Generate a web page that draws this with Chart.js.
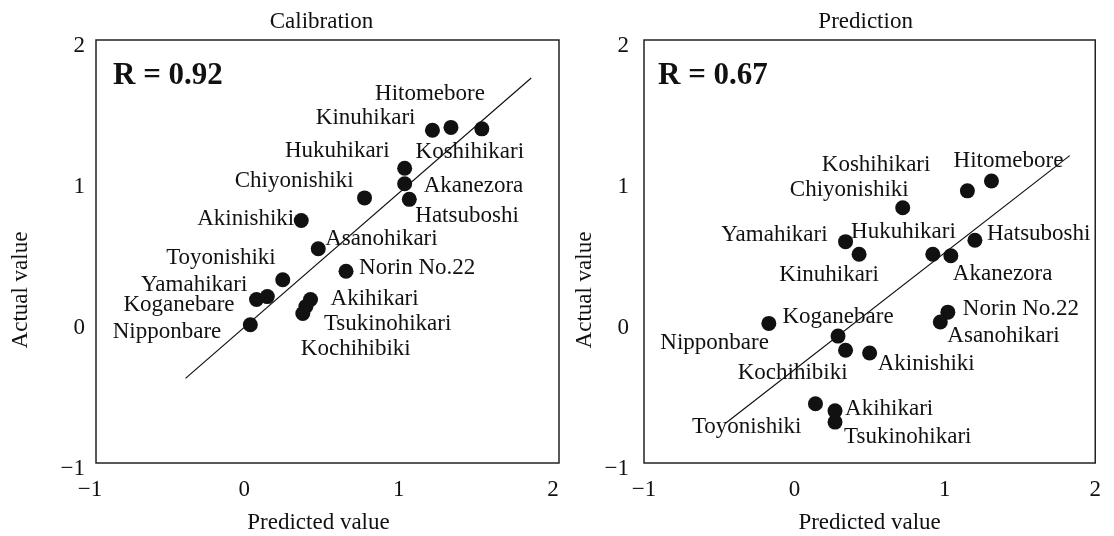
<!DOCTYPE html>
<html>
<head>
<meta charset="utf-8">
<script src="https://cdn.jsdelivr.net/npm/chart.js@4.4.1/dist/chart.umd.min.js"></script>
<style>
  html, body { margin: 0; padding: 0; background: #fff; }
  #wrap { position: relative; width: 1114px; height: 536px; overflow: hidden; }
  #wrap canvas { position: absolute; left: 0; top: 0; }
</style>
</head>
<body>
<div id="wrap">
  <canvas id="cal" width="1114" height="536"></canvas>
  <canvas id="pre" width="1114" height="536"></canvas>
</div>
<script>
// Cultivars (same order in both panels)
const cultivars = [
  'Nipponbare', 'Koganebare', 'Yamahikari', 'Toyonishiki', 'Akihikari',
  'Tsukinohikari', 'Kochihibiki', 'Akinishiki', 'Asanohikari', 'Norin No.22',
  'Chiyonishiki', 'Hukuhikari', 'Akanezora', 'Hatsuboshi', 'Kinuhikari',
  'Hitomebore', 'Koshihikari'
];

// Calibration set
const calPredicted = [0.00, 0.04, 0.11, 0.21, 0.39, 0.36, 0.34, 0.33, 0.44, 0.62, 0.74, 1.00, 1.00, 1.03, 1.18, 1.30, 1.50];
const calActual    = [-0.02, 0.16, 0.18, 0.30, 0.16, 0.11, 0.06, 0.72, 0.52, 0.36, 0.88, 1.09, 0.98, 0.87, 1.36, 1.38, 1.37];
const calFitX = [-0.42, 1.82];
const calFitY = [-0.40, 1.73];
const calR = 'R = 0.92';

// Prediction set
const prePredicted = [-0.17, 0.29, 0.34, 0.14, 0.27, 0.27, 0.34, 0.50, 0.97, 1.02, 0.72, 0.92, 1.04, 1.20, 0.43, 1.31, 1.15];
const preActual    = [-0.01, -0.10, 0.57, -0.58, -0.63, -0.71, -0.20, -0.22, 0.00, 0.07, 0.81, 0.48, 0.47, 0.58, 0.48, 1.00, 0.93];
const preFitX = [-0.46, 1.83];
const preFitY = [-0.72, 1.18];
const preR = 'R = 0.67';

// Axis ticks
const tickValues = [-1, 0, 1, 2];

// Label placement next to each marker: [textAlign, dx, dy] in pixels
const calLabelPlace = {
  'Hitomebore': ['center', -21, -33], 'Kinuhikari': ['right', -17, -12],
  'Koshihikari': ['center', -12, 23], 'Hukuhikari': ['right', -15, -17],
  'Akanezora': ['left', 19, 2], 'Hatsuboshi': ['left', 6, 17],
  'Chiyonishiki': ['right', -11, -17], 'Akinishiki': ['right', -7, -2],
  'Asanohikari': ['left', 7, -10], 'Toyonishiki': ['right', -7, -22],
  'Norin No.22': ['left', 13, -3], 'Yamahikari': ['right', -20, -12],
  'Koganebare': ['right', -22, 6], 'Nipponbare': ['right', -29, 7],
  'Akihikari': ['left', 20, 0], 'Tsukinohikari': ['left', 18, 17],
  'Kochihibiki': ['left', -2, 35]
};
const preLabelPlace = {
  'Hitomebore': ['center', 17, -20], 'Koshihikari': ['right', -37, -26],
  'Chiyonishiki': ['right', 6, -18], 'Yamahikari': ['right', -18, -7],
  'Hukuhikari': ['right', 23, -22], 'Kinuhikari': ['center', -30, 21],
  'Akanezora': ['left', 2, 18], 'Hatsuboshi': ['left', 12, -6],
  'Norin No.22': ['left', 15, -3], 'Asanohikari': ['left', 7, 14],
  'Koganebare': ['center', 0, -19], 'Nipponbare': ['right', 0, 20],
  'Kochihibiki': ['right', 2, 23], 'Akinishiki': ['left', 8, 11],
  'Toyonishiki': ['right', -14, 23], 'Akihikari': ['left', 10, -2],
  'Tsukinohikari': ['left', 9, 15]
};

const SERIF = '"Liberation Serif", "Times New Roman", serif';
const INK = '#111111';
Chart.defaults.font.family = SERIF;
Chart.defaults.font.size = 23;
Chart.defaults.color = INK;

const minusFmt = v => (v < 0 ? '\u2212' + Math.abs(v) : String(v));

// Frame, marker labels, R value and axis titles
const panelPlugin = {
  id: 'panel',
  afterDatasetsDraw(chart, args, o) {
    const { ctx, chartArea: a } = chart;
    const xs = chart.scales.x, ys = chart.scales.y;
    ctx.save();
    ctx.strokeStyle = '#222';
    ctx.lineWidth = 1.5;
    ctx.strokeRect(a.left, a.top, a.right - a.left, a.bottom - a.top);

    ctx.fillStyle = INK;
    ctx.textBaseline = 'middle';
    ctx.font = '23px ' + SERIF;
    o.names.forEach((n, i) => {
      const p = o.place[n];
      const px = xs.getPixelForValue(o.xv[i]);
      const py = ys.getPixelForValue(o.yv[i]);
      ctx.textAlign = p[0];
      ctx.fillText(n, px + p[1], py + p[2]);
    });

    ctx.font = 'bold 31px ' + SERIF;
    ctx.textAlign = 'left';
    ctx.fillText(o.r, a.left + o.rDx, a.top + 36);

    ctx.font = '23px ' + SERIF;
    ctx.textAlign = 'center';
    const cx = (a.left + a.right) / 2;
    ctx.fillText(o.title, cx + o.titleDx, a.top - 18);
    ctx.fillText('Predicted value', cx + o.xTitleDx, a.bottom + 60);

    ctx.translate(o.yTitleX, 290);
    ctx.rotate(-Math.PI / 2);
    ctx.fillText('Actual value', 0, 0);
    ctx.restore();
  }
};

function makePanel(id, cfg) {
  const pts = cfg.xv.map((v, i) => ({ x: v, y: cfg.yv[i] }));
  const fit = cfg.fitX.map((v, i) => ({ x: v, y: cfg.fitY[i] }));
  return new Chart(document.getElementById(id), {
    type: 'scatter',
    data: {
      datasets: [
        { data: pts, pointRadius: 7.5, pointBackgroundColor: INK, pointBorderWidth: 0, pointHoverRadius: 7.5 },
        { data: fit, showLine: true, borderColor: '#111', borderWidth: 1.2, pointRadius: 0, pointHoverRadius: 0, fill: false }
      ]
    },
    options: {
      responsive: false,
      animation: false,
      events: [],
      layout: { padding: cfg.padding },
      plugins: {
        legend: { display: false },
        tooltip: { enabled: false },
        panel: {
          names: cultivars, xv: cfg.xv, yv: cfg.yv, place: cfg.place, r: cfg.r, rDx: cfg.rDx,
          title: cfg.title, titleDx: cfg.titleDx, xTitleDx: cfg.xTitleDx, yTitleX: cfg.yTitleX
        }
      },
      scales: {
        x: {
          type: 'linear', min: -1, max: 2,
          afterBuildTicks: s => { s.ticks = tickValues.map(v => ({ value: v })); },
          ticks: { padding: 13, labelOffset: cfg.xLabelOffset, callback: minusFmt, maxRotation: 0, autoSkip: false },
          grid: { display: false, drawTicks: false },
          border: { display: false },
          afterFit: s => { s.height = 60; }
        },
        y: {
          type: 'linear', min: -1, max: 2,
          afterBuildTicks: s => { s.ticks = tickValues.map(v => ({ value: v })); },
          ticks: { padding: cfg.yPad, labelOffset: 6, callback: minusFmt, autoSkip: false },
          grid: { display: false, drawTicks: false },
          border: { display: false },
          afterFit: s => { s.width = cfg.yWidth; }
        }
      }
    },
    plugins: [panelPlugin]
  });
}

makePanel('cal', {
  xv: calPredicted, yv: calActual, fitX: calFitX, fitY: calFitY, place: calLabelPlace,
  r: calR, rDx: 17, title: 'Calibration', titleDx: -6, xTitleDx: -9, yTitleX: 21,
  padding: { left: 0, right: 555, top: 40, bottom: 13 }, yWidth: 96, yPad: 11, xLabelOffset: -6
});

makePanel('pre', {
  xv: prePredicted, yv: preActual, fitX: preFitX, fitY: preFitY, place: preLabelPlace,
  r: preR, rDx: 14, title: 'Prediction', titleDx: -4, xTitleDx: 0, yTitleX: 585,
  padding: { left: 564, right: 8, top: 40, bottom: 13 }, yWidth: 80, yPad: 15, xLabelOffset: 0
});
</script>
</body>
</html>
